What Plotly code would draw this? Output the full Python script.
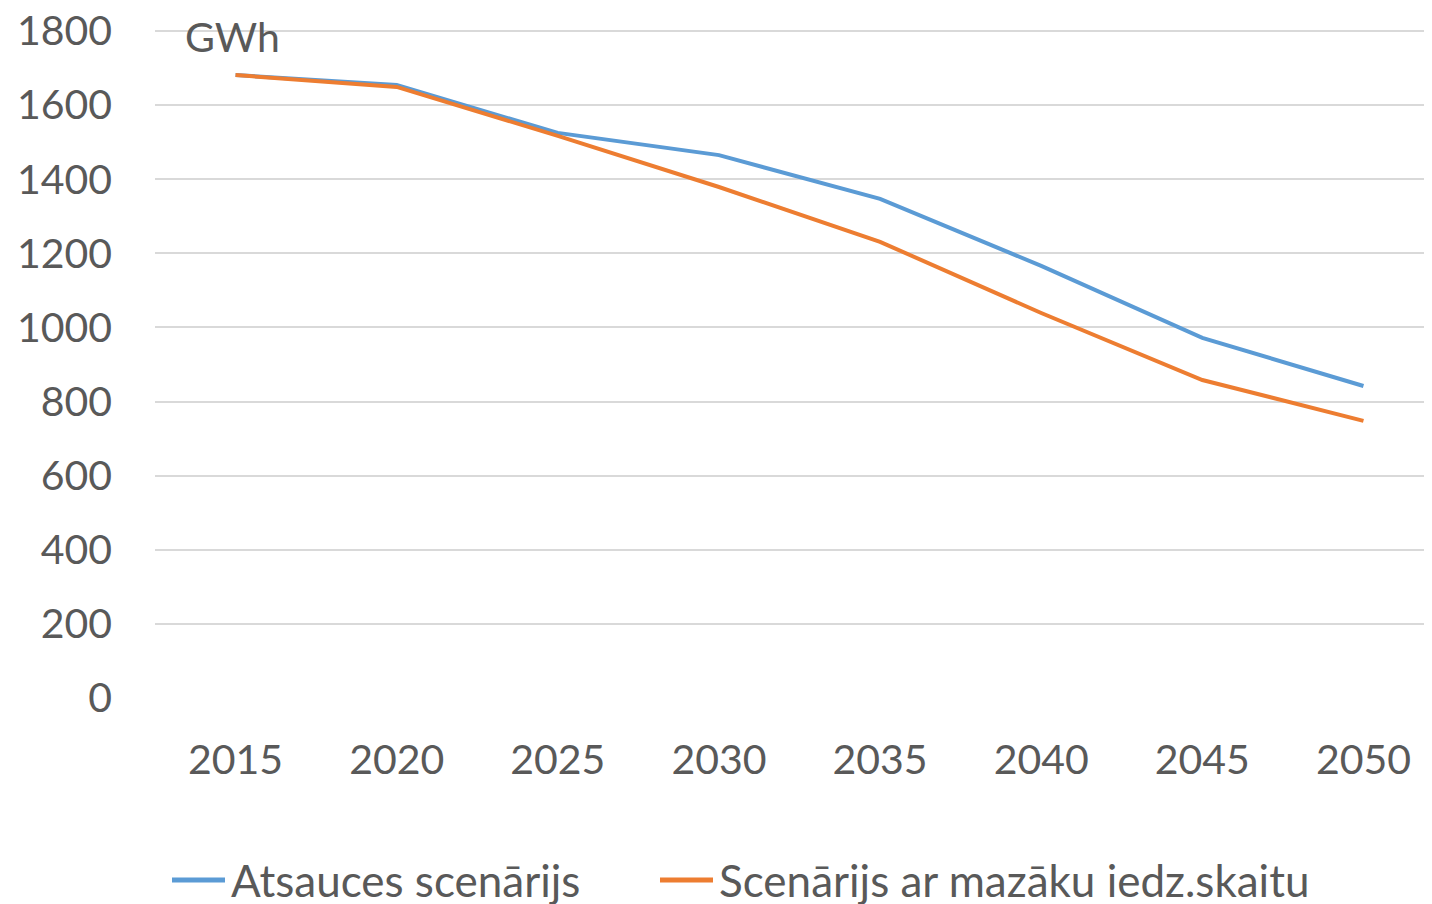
import plotly.graph_objects as go

years = ["2015", "2020", "2025", "2030", "2035", "2040", "2045", "2050"]
atsauces = [1681, 1654, 1525, 1465, 1347, 1166, 972, 842]
mazaku = [1681, 1649, 1517, 1379, 1231, 1039, 858, 748]
y_ticks = [0, 200, 400, 600, 800, 1000, 1200, 1400, 1600, 1800]
series_names = ["Atsauces scenārijs", "Scenārijs ar mazāku iedz.skaitu"]
colors = ["#5B9BD5", "#ED7D31"]

FONT = "Lato"
GREY = "#595959"
OFF = 8  # page body margin
W, H = 1432, 904
# page-pixel plot box: left 155, top ~29 (1800 gridline at 31), right edge of window, bottom 698
L, T = 155 - OFF, 21
R = 0
B = H - (698 - OFF)
PW, PH = W - L - R, H - T - B


def px_x(px):  # page px -> paper
    return (px - OFF - L) / PW


def px_y(py):
    return (H - B - (py - OFF)) / PH


fig = go.Figure()
for name, vals, col in zip(series_names, [atsauces, mazaku], colors):
    fig.add_trace(go.Scatter(x=years, y=vals, mode="lines", name=name,
                             line=dict(color=col, width=4), showlegend=False))

# manual legend
shapes = []
annotations = []
leg_y = 880
for (x0, x1, tx), name, col in zip([(172, 225, 229), (660, 713, 717)], series_names, colors):
    shapes.append(dict(type="line", xref="paper", yref="paper",
                       x0=px_x(x0), x1=px_x(x1), y0=px_y(leg_y), y1=px_y(leg_y),
                       line=dict(color=col, width=5)))
    annotations.append(dict(text=name, xref="paper", yref="paper", x=px_x(tx), y=px_y(leg_y),
                            xanchor="left", yanchor="middle", showarrow=False,
                            font=dict(size=44, color=GREY, family=FONT)))

annotations.append(dict(text="GWh", xref="paper", yref="paper", x=px_x(183), y=px_y(37),
                        xanchor="left", yanchor="middle", showarrow=False,
                        font=dict(size=41, color=GREY, family=FONT)))

fig.update_layout(
    width=W, height=H,
    margin=dict(l=L, r=R, t=T, b=B, autoexpand=False),
    paper_bgcolor="white", plot_bgcolor="white",
    font=dict(family=FONT, color=GREY, size=41),
    showlegend=False,
    shapes=shapes,
    annotations=annotations,
)
fig.update_xaxes(type="category", range=[-0.5, 7.475], showgrid=False, zeroline=False,
                 showline=False, ticks="", ticklabelstandoff=34, automargin=False,
                 tickfont=dict(size=41, color=GREY, family=FONT))
fig.update_yaxes(range=[0, 1805.4], tickvals=y_ticks, showgrid=True, gridcolor="#D9D9D9",
                 gridwidth=2, zeroline=False, showline=False, ticks="", ticklabelstandoff=42,
                 ticklabeloverflow="allow",
                 automargin=False, tickfont=dict(size=41, color=GREY, family=FONT))

fig.write_html("out.html")
